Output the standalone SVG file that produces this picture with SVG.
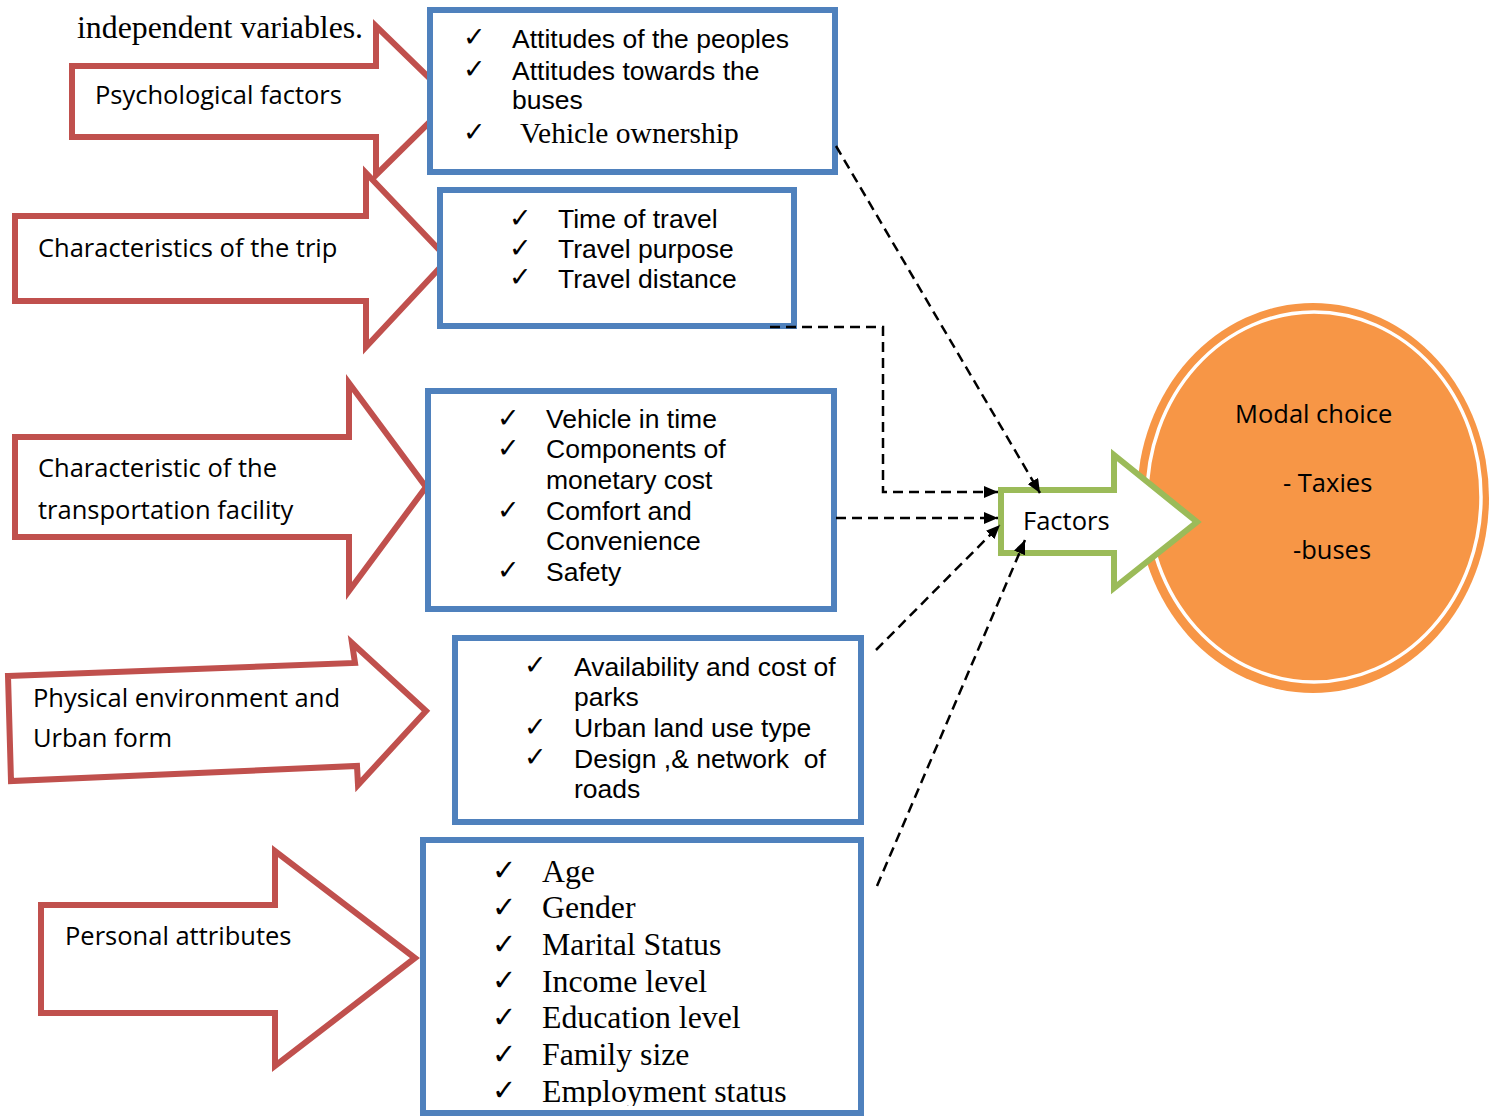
<svg xmlns="http://www.w3.org/2000/svg" width="1491" height="1117" viewBox="0 0 1491 1117">
<style>
.red{fill:#fff;stroke:#C0504D;stroke-width:6;stroke-linejoin:miter}
.box{fill:#fff;stroke:#4F81BD;stroke-width:6}
.cal{font-family:"Open Sans","Noto Sans",sans-serif;font-size:25.5px;fill:#000}
.ari{font-family:"Liberation Sans",Arial,sans-serif;font-size:26.5px;fill:#000}
.tim{font-family:"Liberation Serif","Times New Roman",serif;fill:#000}
.chk{font-family:"DejaVu Sans",sans-serif;font-size:27px;fill:#000}
.chk2{font-family:"DejaVu Sans",sans-serif;font-size:29px;font-weight:bold;fill:#000}
.dash{fill:none;stroke:#000;stroke-width:2.5;stroke-dasharray:10 6}
</style>
<defs>
<marker id="ah" viewBox="0 0 14 12" refX="14" refY="6" markerWidth="14" markerHeight="12" markerUnits="userSpaceOnUse" orient="auto">
<path d="M0,0 L14,6 L0,12 z" fill="#000"/>
</marker>
<clipPath id="clip5"><rect x="423" y="840" width="438" height="266"/></clipPath>
</defs>
<rect width="1491" height="1117" fill="#fff"/>

<text class="tim" x="77" y="38" font-size="31.8">independent variables.</text>

<g id="arrow-psych">
<polygon class="red" points="72,66 376,66 376,26 452,100 376,175 376,137 72,137"/>
<text class="cal" x="95" y="104">Psychological factors</text>
</g>
<g id="arrow-trip">
<polygon class="red" points="15,216 366,216 366,173 448,259 366,347 366,301 15,301"/>
<text class="cal" x="38" y="257">Characteristics of the trip</text>
</g>
<g id="arrow-facility">
<polygon class="red" points="15,437 349,437 349,383 426,487 349,591 349,537 15,537"/>
<text class="cal" x="38" y="477">Characteristic of the</text>
<text class="cal" x="38" y="519">transportation facility</text>
</g>
<g id="arrow-physical">
<polygon class="red" points="8,676 355,663 352,643 426,711 358,785 357,766 11,781"/>
<text class="cal" x="33" y="707">Physical environment and</text>
<text class="cal" x="33" y="747">Urban form</text>
</g>
<g id="arrow-personal">
<polygon class="red" points="41,905 275,905 275,851 415,958 275,1066 275,1013 41,1013"/>
<text class="cal" x="65" y="945">Personal attributes</text>
</g>

<g id="box-psych">
<rect class="box" x="430" y="10" width="405" height="162"/>
<text class="chk" x="463" y="46">✓</text>
<text class="chk" x="463" y="78">✓</text>
<text class="chk" x="463" y="141">✓</text>
<text class="ari" x="512" y="48">Attitudes of the peoples</text>
<text class="ari" x="512" y="80">Attitudes towards the</text>
<text class="ari" x="512" y="109">buses</text>
<text class="tim" x="520" y="143" font-size="29.5">Vehicle ownership</text>
</g>
<g id="box-trip">
<rect class="box" x="440" y="190" width="354" height="136"/>
<text class="chk" x="509" y="227">✓</text>
<text class="chk" x="509" y="257">✓</text>
<text class="chk" x="509" y="286">✓</text>
<text class="ari" x="558" y="228">Time of travel</text>
<text class="ari" x="558" y="258">Travel purpose</text>
<text class="ari" x="558" y="288">Travel distance</text>
</g>
<g id="box-facility">
<rect class="box" x="428" y="391" width="406" height="218"/>
<text class="chk" x="497" y="427">✓</text>
<text class="chk" x="497" y="457">✓</text>
<text class="chk" x="497" y="519">✓</text>
<text class="chk" x="497" y="579">✓</text>
<text class="ari" x="546" y="428">Vehicle in time</text>
<text class="ari" x="546" y="458">Components of</text>
<text class="ari" x="546" y="489">monetary cost</text>
<text class="ari" x="546" y="520">Comfort and</text>
<text class="ari" x="546" y="550">Convenience</text>
<text class="ari" x="546" y="581">Safety</text>
</g>
<g id="box-physical">
<rect class="box" x="455" y="638" width="406" height="184"/>
<text class="chk" x="524" y="674">✓</text>
<text class="chk" x="524" y="736">✓</text>
<text class="chk" x="524" y="766">✓</text>
<text class="ari" x="574" y="676">Availability and cost of</text>
<text class="ari" x="574" y="706">parks</text>
<text class="ari" x="574" y="737">Urban land use type</text>
<text class="ari" x="574" y="768" xml:space="preserve">Design ,&amp; network  of</text>
<text class="ari" x="574" y="798">roads</text>
</g>
<g id="box-personal">
<rect class="box" x="423" y="840" width="438" height="273"/>
<g clip-path="url(#clip5)">
<text class="chk2" x="492" y="880">✓</text>
<text class="chk2" x="492" y="917">✓</text>
<text class="chk2" x="492" y="954">✓</text>
<text class="chk2" x="492" y="990">✓</text>
<text class="chk2" x="492" y="1027">✓</text>
<text class="chk2" x="492" y="1064">✓</text>
<text class="chk2" x="492" y="1100">✓</text>
<text class="tim" x="542" y="882" font-size="31.8">Age</text>
<text class="tim" x="542" y="918" font-size="31.8">Gender</text>
<text class="tim" x="542" y="955" font-size="31.8">Marital Status</text>
<text class="tim" x="542" y="992" font-size="31.8">Income level</text>
<text class="tim" x="542" y="1028" font-size="31.8">Education level</text>
<text class="tim" x="542" y="1065" font-size="31.8">Family size</text>
<text class="tim" x="542" y="1102" font-size="31.8">Employment status</text>
</g>
</g>

<g id="modal-choice">
<ellipse cx="1313" cy="498" rx="176" ry="195" fill="#F79646"/>
<ellipse cx="1314" cy="497" rx="167" ry="185" fill="none" stroke="#fff" stroke-width="3.5"/>
<text class="cal" x="1235" y="423" font-size="26">Modal choice</text>
<text class="cal" x="1283" y="492" font-size="26">- Taxies</text>
<text class="cal" x="1293" y="559" font-size="26">-buses</text>
</g>

<g id="factors">
<polygon points="1001,490 1114,490 1114,455 1197,522 1114,588 1114,553 1001,553" fill="#fff" stroke="#9BBB59" stroke-width="6"/>
<text class="cal" x="1023" y="530">Factors</text>
</g>

<g id="connectors">
<path class="dash" d="M836,146 L1040,493" marker-end="url(#ah)"/>
<path class="dash" d="M770,327 H883 V492 H998" marker-end="url(#ah)"/>
<path class="dash" d="M836,518 H998" marker-end="url(#ah)"/>
<path class="dash" d="M876,650 L1000,525" marker-end="url(#ah)"/>
<path class="dash" d="M877,886 L1025,540" marker-end="url(#ah)"/>
</g>
</svg>
